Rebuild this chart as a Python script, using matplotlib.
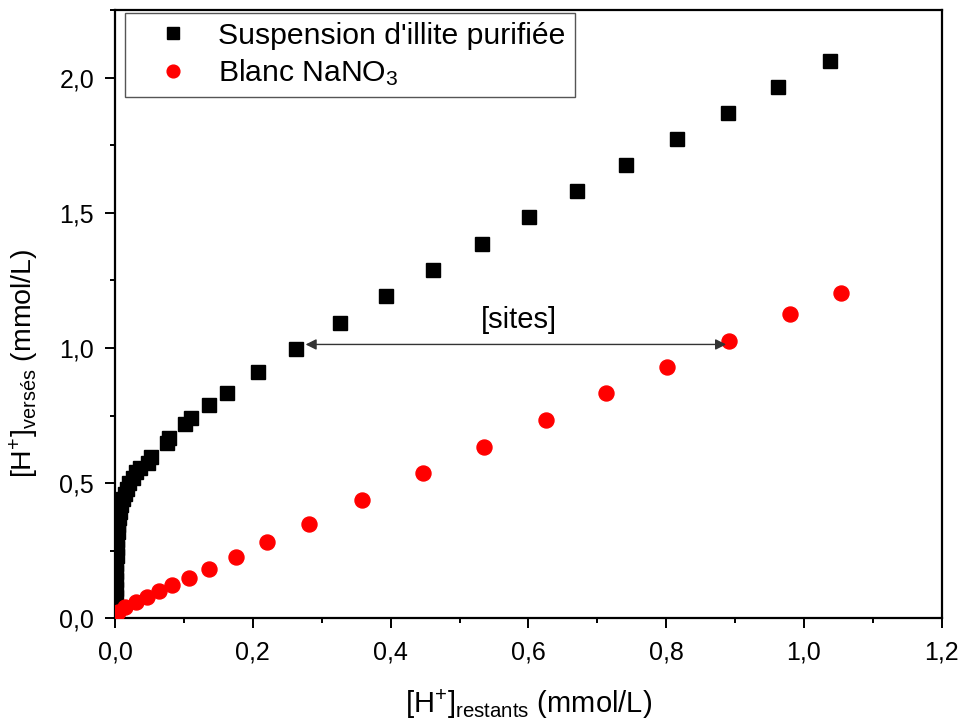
import matplotlib
matplotlib.use("Agg")
import matplotlib.pyplot as plt
from matplotlib.ticker import MultipleLocator, FuncFormatter

plt.rcParams['font.family'] = ['Liberation Sans', 'DejaVu Sans']
plt.rcParams['mathtext.fontset'] = 'custom'
plt.rcParams['mathtext.rm'] = 'Liberation Sans'
plt.rcParams['mathtext.it'] = 'Liberation Sans:italic'
plt.rcParams['mathtext.bf'] = 'Liberation Sans:bold'

# Suspension d'illite purifiée (black squares)
illite_x = [0.0003, 0.0006, 0.0008, 0.001, 0.0013, 0.0016, 0.002, 0.0025, 0.003,
            0.0035, 0.004, 0.005, 0.006, 0.007, 0.009, 0.011, 0.014, 0.017, 0.021,
            0.026, 0.030, 0.036, 0.048, 0.052, 0.075, 0.079, 0.102, 0.110, 0.137,
            0.163, 0.208, 0.263, 0.327, 0.3935, 0.461, 0.532, 0.601, 0.671, 0.741,
            0.815, 0.890, 0.962, 1.038]
illite_y = [0.02, 0.05, 0.08, 0.11, 0.14, 0.17, 0.20, 0.23, 0.26,
            0.29, 0.32, 0.345, 0.37, 0.395, 0.42, 0.44, 0.46, 0.48, 0.50,
            0.52, 0.54, 0.555, 0.575, 0.595, 0.65, 0.668, 0.72, 0.74, 0.788,
            0.835, 0.911, 0.995, 1.093, 1.192, 1.289, 1.386, 1.483, 1.579, 1.676,
            1.774, 1.870, 1.966, 2.062]

# Blanc NaNO3 (red circles)
blanc_x = [0.001, 0.004, 0.015, 0.030, 0.046, 0.064, 0.083, 0.108, 0.137, 0.176,
           0.220, 0.282, 0.358, 0.447, 0.536, 0.625, 0.713, 0.801, 0.891, 0.980,
           1.053]
blanc_y = [0.012, 0.025, 0.043, 0.060, 0.079, 0.100, 0.124, 0.150, 0.183, 0.228,
           0.281, 0.350, 0.438, 0.537, 0.635, 0.734, 0.833, 0.931, 1.027, 1.127,
           1.204]

series_labels = ["Suspension d'illite purifiée", "Blanc NaNO$_3$"]
xlabel = "[H$^{+}$]$_{\\mathrm{restants}}$ (mmol/L)"
ylabel = "[H$^{+}$]$_{\\mathrm{versés}}$ (mmol/L)"
annot_text = "[sites]"
arrow_start = (0.2766, 1.013)
arrow_end = (0.887, 1.013)
text_pos = (0.586, 1.102)

fig = plt.figure(figsize=(9.61, 7.27), dpi=100)
ax = fig.add_axes([0.1197, 0.1495, 0.8603, 0.8367])

ax.plot(illite_x, illite_y, linestyle='none', marker='s', markersize=9.8,
        color='black', label=series_labels[0], zorder=3)
ax.plot(blanc_x, blanc_y, linestyle='none', marker='o', markersize=10.8,
        color='#ff0000', markeredgecolor='#ff0000', label=series_labels[1], zorder=3)

ax.set_xlim(0, 1.2)
ax.set_ylim(0, 2.25)
ax.xaxis.set_major_locator(MultipleLocator(0.2))
ax.xaxis.set_minor_locator(MultipleLocator(0.1))
ax.yaxis.set_major_locator(MultipleLocator(0.5))
ax.yaxis.set_minor_locator(MultipleLocator(0.25))
fmt = FuncFormatter(lambda v, p: ("%.1f" % v).replace('.', ','))
ax.xaxis.set_major_formatter(fmt)
ax.yaxis.set_major_formatter(fmt)

for s in ax.spines.values():
    s.set_linewidth(1.6)
ax.tick_params(which='both', direction='out', top=False, right=False, width=1.4)
ax.tick_params(which='major', length=7, labelsize=18)
ax.tick_params(axis='x', which='major', pad=9)
ax.tick_params(axis='y', which='major', pad=8)
ax.tick_params(which='minor', length=3.5)

ax.set_xlabel(xlabel, fontsize=21)
ax.set_ylabel(ylabel, fontsize=20.5)
ax.xaxis.set_label_coords(0.5, -0.113)
ax.yaxis.set_label_coords(-0.09, 0.42)

ax.annotate('', xy=arrow_end, xytext=arrow_start,
            arrowprops=dict(arrowstyle='<|-|>', color='#333333', lw=1.0,
                            mutation_scale=16, shrinkA=0, shrinkB=0), zorder=4)
ax.text(text_pos[0], text_pos[1], annot_text, fontsize=21, ha='center', va='center')

leg = ax.legend(loc='upper left', bbox_to_anchor=(0.012, 0.9955), borderaxespad=0,
                fontsize=21.7, frameon=True, fancybox=False, edgecolor='#555555',
                framealpha=1, handlelength=2.6, handletextpad=0.2, borderpad=0.3,
                labelspacing=0.25, markerscale=0.85)
leg.get_frame().set_linewidth(1.0)

fig.savefig('out.png', dpi=100)
